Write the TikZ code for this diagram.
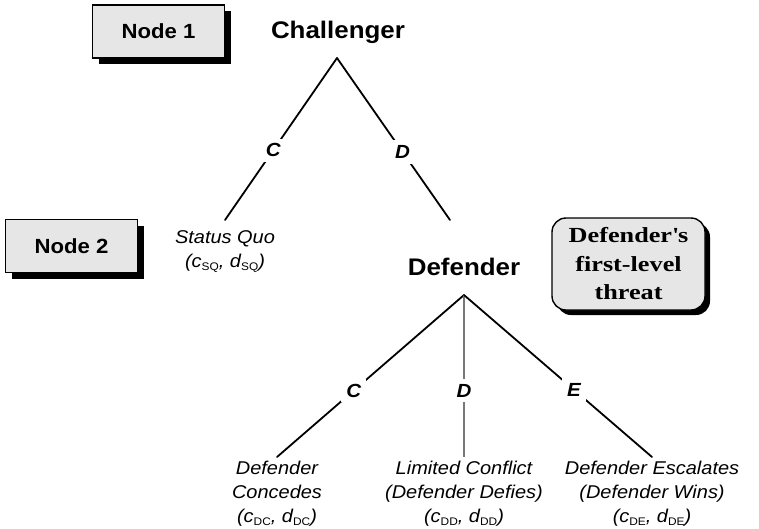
\documentclass[tikz,border=0pt]{standalone}
\usepackage{fontspec}
\setmainfont{Liberation Sans}[FakeStretch=1.08]
\newfontfamily\threatfont{Liberation Serif}[FakeStretch=1.22]
\usetikzlibrary{shadows}

\definecolor{boxgray}{RGB}{230,230,230}
\definecolor{midline}{RGB}{120,120,120}

% payoff subscript: small upright letters set slightly below the baseline
\newcommand{\sbx}[1]{\raisebox{-0.3ex}{\fontsize{11}{11}\selectfont\upshape #1}}

\tikzset{
  every node/.style={inner sep=0pt},
  stepbox/.style={draw=black, line width=1.4pt, fill=boxgray,
    minimum width=132pt, minimum height=53pt,
    font=\fontsize{20.5}{24}\selectfont\bfseries,
    drop shadow={shadow xshift=6pt, shadow yshift=-6pt, opacity=1, fill=black}},
  player/.style={font=\fontsize{24}{26}\selectfont\bfseries},
  leaf/.style={align=center, font=\fontsize{18.5}{24}\selectfont\itshape},
  lbl/.style={fill=white, inner sep=5pt, font=\fontsize{19}{22}\selectfont\bfseries\itshape},
  branch/.style={line width=1.8pt, line cap=round},
  thinbranch/.style={line width=1.3pt, draw=midline},
  threatbox/.style={draw=black, line width=1.4pt, fill=boxgray, rounded corners=14pt,
    minimum width=153pt, minimum height=92pt, align=center,
    font=\threatfont\fontsize{21.5}{28.5}\selectfont\bfseries,
    drop shadow={shadow xshift=5pt, shadow yshift=-5pt, opacity=1, fill=black}},
}

\begin{document}
\begin{tikzpicture}[x=1pt, y=-1pt]
\useasboundingbox (0,0) rectangle (759,528);

% level markers
\node[stepbox] (n1) at (158.5,31.5) {Node 1};
\node[stepbox] (n2) at (71.5,246) {Node 2};

% first move: the challenger
\node[player] (chal) at (338,32) {Challenger};
\coordinate (chalroot) at (337,58);
\coordinate (sqend) at (225,220);
\coordinate (defend) at (450,220);
\node[leaf, anchor=north] (sq) at (225,230) {Status Quo\\(\textit{c}\sbx{SQ}, \textit{d}\sbx{SQ})};

\draw[branch] (chalroot) -- (sqend) node[lbl, pos=.57] (cc) {C};
\draw[branch] (chalroot) -- (defend) node[lbl, pos=.58] (cd) {D};

% second move: the defender
\node[player] (def) at (464,267) {Defender};
\coordinate (defroot) at (464,295);
\node[threatbox] (thr) at (628.5,264) {Defender\textquotesingle s\\first-level\\threat};

\coordinate (dcend) at (277,457);
\coordinate (ddend) at (464,457);
\coordinate (deend) at (652,457);

\draw[branch] (defroot) -- (dcend) node[lbl, pos=.59] (dc) {C};
\draw[thinbranch] (defroot) -- (ddend) node[lbl, pos=.59] (dd) {D};
\draw[branch] (defroot) -- (deend) node[lbl, pos=.585] (de) {E};

% outcomes
\node[leaf, anchor=north] (oc) at (277,461) {Defender\\Concedes\\(\textit{c}\sbx{DC}, \textit{d}\sbx{DC})};
\node[leaf, anchor=north] (od) at (464,461) {Limited Conflict\\(Defender Defies)\\(\textit{c}\sbx{DD}, \textit{d}\sbx{DD})};
\node[leaf, anchor=north] (oe) at (652,461) {Defender Escalates\\(Defender Wins)\\(\textit{c}\sbx{DE}, \textit{d}\sbx{DE})};
\end{tikzpicture}
\end{document}
